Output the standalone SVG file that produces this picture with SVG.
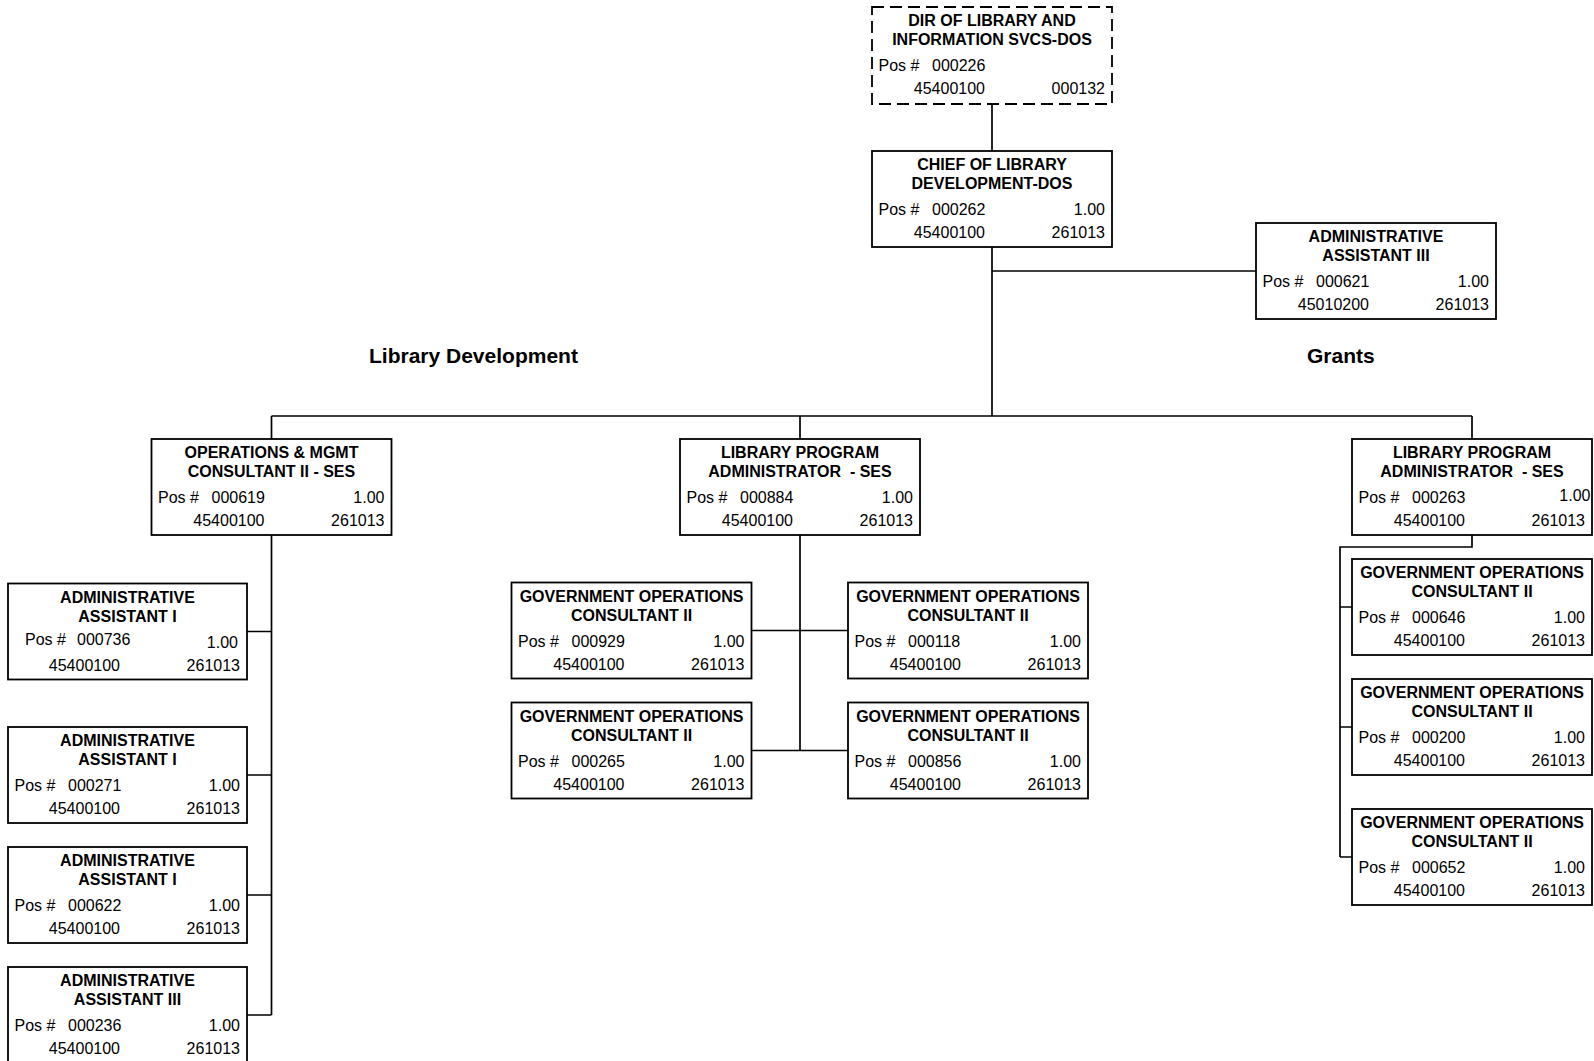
<svg xmlns="http://www.w3.org/2000/svg" width="1594" height="1061" viewBox="0 0 1594 1061">
  <style>
    .box { fill: #fff; stroke: #000; stroke-width: 1.8; }
    .dash { stroke-dasharray: 12 6; }
    .link { fill: none; stroke: #000; stroke-width: 1.7; }
    .t { font-family: "Liberation Sans", Arial, sans-serif; font-size: 16px; font-weight: bold; text-anchor: middle; fill: #000; }
    .r { font-family: "Liberation Sans", Arial, sans-serif; font-size: 16px; fill: #000; }
    .e { text-anchor: end; }
    .sec { font-family: "Liberation Sans", Arial, sans-serif; font-size: 21px; font-weight: bold; fill: #000; }
  </style>

  <rect width="1594" height="1061" fill="#fff"/>

  <!-- reporting lines -->
  <g id="connectors">
    <path class="link" d="M992 104 V151"/>
    <path class="link" d="M992 247 V416"/>
    <path class="link" d="M992 271 H1256"/>
    <path class="link" d="M271.5 416 H1472"/>
    <path class="link" d="M271.5 416 V439 M800 416 V439 M1472 416 V439"/>
    <!-- Library Development: support staff -->
    <path class="link" d="M271.5 535 V1015"/>
    <path class="link" d="M247 631.5 H271.5 M247 775 H271.5 M247 895 H271.5 M247 1015 H271.5"/>
    <!-- Library Development: consultants -->
    <path class="link" d="M800 535 V750.5"/>
    <path class="link" d="M751.5 630.5 H848 M751.5 750.5 H848"/>
    <!-- Grants: consultants -->
    <path class="link" d="M1472 535 V547 H1340 V857"/>
    <path class="link" d="M1340 607 H1352 M1340 727 H1352 M1340 857 H1352"/>
  </g>

  <text class="sec" x="369" y="363">Library Development</text>
  <text class="sec" x="1307" y="363">Grants</text>

  <g id="dir-library-info-svcs" transform="translate(872,7)">
    <rect class="box dash" width="240" height="97"/>
    <text class="t" x="120" y="19">DIR OF LIBRARY AND</text>
    <text class="t" x="120" y="38">INFORMATION SVCS-DOS</text>
    <text class="r" x="6.5" y="64">Pos #</text>
    <text class="r" x="60" y="64">000226</text>
    <text class="r e" x="113" y="87">45400100</text>
    <text class="r e" x="233" y="87">000132</text>
  </g>

  <g id="chief-library-dev" transform="translate(872,151)">
    <rect class="box" width="240" height="96"/>
    <text class="t" x="120" y="19">CHIEF OF LIBRARY</text>
    <text class="t" x="120" y="38">DEVELOPMENT-DOS</text>
    <text class="r" x="6.5" y="64">Pos #</text>
    <text class="r" x="60" y="64">000262</text>
    <text class="r e" x="233" y="64">1.00</text>
    <text class="r e" x="113" y="87">45400100</text>
    <text class="r e" x="233" y="87">261013</text>
  </g>

  <g id="admin-asst-iii-000621" transform="translate(1256,223)">
    <rect class="box" width="240" height="96"/>
    <text class="t" x="120" y="19">ADMINISTRATIVE</text>
    <text class="t" x="120" y="38">ASSISTANT III</text>
    <text class="r" x="6.5" y="64">Pos #</text>
    <text class="r" x="60" y="64">000621</text>
    <text class="r e" x="233" y="64">1.00</text>
    <text class="r e" x="113" y="87">45010200</text>
    <text class="r e" x="233" y="87">261013</text>
  </g>

  <g id="ops-mgmt-consultant-000619" transform="translate(151.5,439)">
    <rect class="box" width="240" height="96"/>
    <text class="t" x="120" y="19">OPERATIONS &amp; MGMT</text>
    <text class="t" x="120" y="38">CONSULTANT II - SES</text>
    <text class="r" x="6.5" y="64">Pos #</text>
    <text class="r" x="60" y="64">000619</text>
    <text class="r e" x="233" y="64">1.00</text>
    <text class="r e" x="113" y="87">45400100</text>
    <text class="r e" x="233" y="87">261013</text>
  </g>

  <g id="lib-program-admin-000884" transform="translate(680,439)">
    <rect class="box" width="240" height="96"/>
    <text class="t" x="120" y="19">LIBRARY PROGRAM</text>
    <text class="t" x="120" y="38" xml:space="preserve">ADMINISTRATOR  - SES</text>
    <text class="r" x="6.5" y="64">Pos #</text>
    <text class="r" x="60" y="64">000884</text>
    <text class="r e" x="233" y="64">1.00</text>
    <text class="r e" x="113" y="87">45400100</text>
    <text class="r e" x="233" y="87">261013</text>
  </g>

  <g id="lib-program-admin-000263" transform="translate(1352,439)">
    <rect class="box" width="240" height="96"/>
    <text class="t" x="120" y="19">LIBRARY PROGRAM</text>
    <text class="t" x="120" y="38" xml:space="preserve">ADMINISTRATOR  - SES</text>
    <text class="r" x="6.5" y="64">Pos #</text>
    <text class="r" x="60" y="64">000263</text>
    <text class="r e" x="238.5" y="61.5">1.00</text>
    <text class="r e" x="113" y="87">45400100</text>
    <text class="r e" x="233" y="87">261013</text>
  </g>

  <g id="admin-asst-i-000736" transform="translate(8,583.5)">
    <rect class="box" width="239" height="96"/>
    <text class="t" x="119.5" y="19">ADMINISTRATIVE</text>
    <text class="t" x="119.5" y="38">ASSISTANT I</text>
    <text class="r" x="17" y="61">Pos #</text>
    <text class="r" x="69" y="61">000736</text>
    <text class="r e" x="230" y="64">1.00</text>
    <text class="r e" x="112" y="87">45400100</text>
    <text class="r e" x="232" y="87">261013</text>
  </g>

  <g id="admin-asst-i-000271" transform="translate(8,727)">
    <rect class="box" width="239" height="96"/>
    <text class="t" x="119.5" y="19">ADMINISTRATIVE</text>
    <text class="t" x="119.5" y="38">ASSISTANT I</text>
    <text class="r" x="6.5" y="64">Pos #</text>
    <text class="r" x="60" y="64">000271</text>
    <text class="r e" x="232" y="64">1.00</text>
    <text class="r e" x="112" y="87">45400100</text>
    <text class="r e" x="232" y="87">261013</text>
  </g>

  <g id="admin-asst-i-000622" transform="translate(8,847)">
    <rect class="box" width="239" height="96"/>
    <text class="t" x="119.5" y="19">ADMINISTRATIVE</text>
    <text class="t" x="119.5" y="38">ASSISTANT I</text>
    <text class="r" x="6.5" y="64">Pos #</text>
    <text class="r" x="60" y="64">000622</text>
    <text class="r e" x="232" y="64">1.00</text>
    <text class="r e" x="112" y="87">45400100</text>
    <text class="r e" x="232" y="87">261013</text>
  </g>

  <g id="admin-asst-iii-000236" transform="translate(8,967)">
    <rect class="box" width="239" height="96"/>
    <text class="t" x="119.5" y="19">ADMINISTRATIVE</text>
    <text class="t" x="119.5" y="38">ASSISTANT III</text>
    <text class="r" x="6.5" y="64">Pos #</text>
    <text class="r" x="60" y="64">000236</text>
    <text class="r e" x="232" y="64">1.00</text>
    <text class="r e" x="112" y="87">45400100</text>
    <text class="r e" x="232" y="87">261013</text>
  </g>

  <g id="gov-ops-consultant-000929" transform="translate(511.5,582.5)">
    <rect class="box" width="240" height="96"/>
    <text class="t" x="120" y="19">GOVERNMENT OPERATIONS</text>
    <text class="t" x="120" y="38">CONSULTANT II</text>
    <text class="r" x="6.5" y="64">Pos #</text>
    <text class="r" x="60" y="64">000929</text>
    <text class="r e" x="233" y="64">1.00</text>
    <text class="r e" x="113" y="87">45400100</text>
    <text class="r e" x="233" y="87">261013</text>
  </g>

  <g id="gov-ops-consultant-000118" transform="translate(848,582.5)">
    <rect class="box" width="240" height="96"/>
    <text class="t" x="120" y="19">GOVERNMENT OPERATIONS</text>
    <text class="t" x="120" y="38">CONSULTANT II</text>
    <text class="r" x="6.5" y="64">Pos #</text>
    <text class="r" x="60" y="64">000118</text>
    <text class="r e" x="233" y="64">1.00</text>
    <text class="r e" x="113" y="87">45400100</text>
    <text class="r e" x="233" y="87">261013</text>
  </g>

  <g id="gov-ops-consultant-000265" transform="translate(511.5,702.5)">
    <rect class="box" width="240" height="96"/>
    <text class="t" x="120" y="19">GOVERNMENT OPERATIONS</text>
    <text class="t" x="120" y="38">CONSULTANT II</text>
    <text class="r" x="6.5" y="64">Pos #</text>
    <text class="r" x="60" y="64">000265</text>
    <text class="r e" x="233" y="64">1.00</text>
    <text class="r e" x="113" y="87">45400100</text>
    <text class="r e" x="233" y="87">261013</text>
  </g>

  <g id="gov-ops-consultant-000856" transform="translate(848,702.5)">
    <rect class="box" width="240" height="96"/>
    <text class="t" x="120" y="19">GOVERNMENT OPERATIONS</text>
    <text class="t" x="120" y="38">CONSULTANT II</text>
    <text class="r" x="6.5" y="64">Pos #</text>
    <text class="r" x="60" y="64">000856</text>
    <text class="r e" x="233" y="64">1.00</text>
    <text class="r e" x="113" y="87">45400100</text>
    <text class="r e" x="233" y="87">261013</text>
  </g>

  <g id="gov-ops-consultant-000646" transform="translate(1352,559)">
    <rect class="box" width="240" height="96"/>
    <text class="t" x="120" y="19">GOVERNMENT OPERATIONS</text>
    <text class="t" x="120" y="38">CONSULTANT II</text>
    <text class="r" x="6.5" y="64">Pos #</text>
    <text class="r" x="60" y="64">000646</text>
    <text class="r e" x="233" y="64">1.00</text>
    <text class="r e" x="113" y="87">45400100</text>
    <text class="r e" x="233" y="87">261013</text>
  </g>

  <g id="gov-ops-consultant-000200" transform="translate(1352,679)">
    <rect class="box" width="240" height="96"/>
    <text class="t" x="120" y="19">GOVERNMENT OPERATIONS</text>
    <text class="t" x="120" y="38">CONSULTANT II</text>
    <text class="r" x="6.5" y="64">Pos #</text>
    <text class="r" x="60" y="64">000200</text>
    <text class="r e" x="233" y="64">1.00</text>
    <text class="r e" x="113" y="87">45400100</text>
    <text class="r e" x="233" y="87">261013</text>
  </g>

  <g id="gov-ops-consultant-000652" transform="translate(1352,809)">
    <rect class="box" width="240" height="96"/>
    <text class="t" x="120" y="19">GOVERNMENT OPERATIONS</text>
    <text class="t" x="120" y="38">CONSULTANT II</text>
    <text class="r" x="6.5" y="64">Pos #</text>
    <text class="r" x="60" y="64">000652</text>
    <text class="r e" x="233" y="64">1.00</text>
    <text class="r e" x="113" y="87">45400100</text>
    <text class="r e" x="233" y="87">261013</text>
  </g>
</svg>
